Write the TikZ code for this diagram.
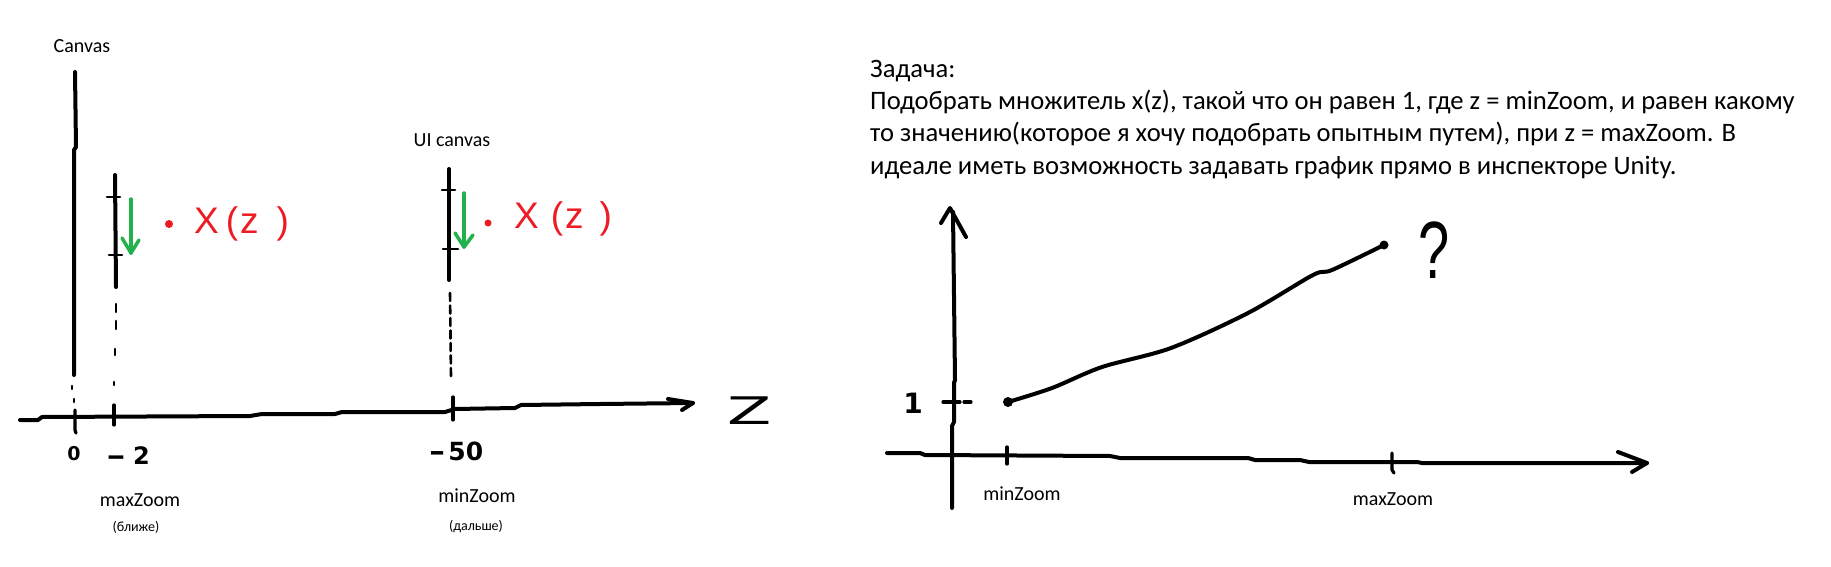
\documentclass[tikz,border=0pt]{standalone}
\usepackage{fontspec}
\usepackage{graphicx}
\setmainfont{Carlito}
\newfontfamily\handfont{DejaVu Sans}
\newfontfamily\redfont{Liberation Sans}
\definecolor{pred}{RGB}{237,28,36}
\definecolor{pgreen}{RGB}{34,177,76}
\begin{document}
\begin{tikzpicture}[x=1pt,y=-1pt,
  ink/.style={line width=4pt,line cap=round,line join=round},
  midink/.style={line width=3.2pt,line cap=round,line join=round},
  thinink/.style={line width=2.6pt,line cap=round,line join=round},
  grn/.style={line width=3.5pt,draw=pgreen,line cap=round,line join=round},
  lbl/.style={inner sep=0pt,font=\fontsize{20}{24}\selectfont},
  sml/.style={inner sep=0pt,font=\fontsize{14}{17}\selectfont},
  task/.style={inner sep=0pt,anchor=base west,font=\fontsize{26.6}{32}\selectfont},
  hand/.style={inner sep=0pt,font=\handfont\bfseries\fontsize{19}{22}\selectfont},
  redtxt/.style={inner sep=0pt,anchor=west,text=pred,font=\redfont\fontsize{37}{40}\selectfont},
]
\useasboundingbox[fill=white] (0,0) rectangle (1831,567);

% ---------- left sketch ----------
\node[lbl] (canvaslbl) at (82,46) {Canvas};
\node[lbl] (uilbl) at (452,140) {UI canvas};

% Canvas plane
\coordinate (cvTop) at (75,72);
\coordinate (cvBot) at (74,375);
\draw[ink] (cvTop) -- (76,147) -- (74,150) -- (cvBot);
\draw[thinink] (72,386) -- (72,389);
\draw[thinink] (74,399) -- (74,402);
\draw[midink] (75,410) -- (75,430) -- (76,433);

% maxZoom plane
\coordinate (pATop) at (115,175);
\coordinate (pABot) at (116,287);
\draw[ink] (pATop) -- (pABot);
\draw[thinink] (107,197) -- (120,197);
\draw[thinink] (109,255) -- (122,255);
\draw[thinink] (116,304) -- (116,312);
\draw[thinink] (116,321) -- (116,329);
\draw[thinink] (115,349) -- (115,355);
\draw[thinink] (114,382) -- (114,385);
\draw[midink] (114,405) -- (114,425);
\coordinate (gA1) at (131,199);
\coordinate (gA2) at (131,253);
\draw[grn] (gA1) -- (gA2);
\draw[grn] (122,238) -- (gA2) -- (139,240);
\fill[pred] (169,224) circle (4);
\node[redtxt] (xzA) at (194,224) {X\hspace{7pt}(\hspace{2pt}z\hspace{18pt})};

% UI canvas plane
\coordinate (pBTop) at (449,169);
\coordinate (pBBot) at (449,280);
\draw[ink] (pBTop) -- (pBBot);
\draw[thinink] (442,190) -- (455,190);
\draw[thinink] (443,249) -- (458,249);
\draw[thinink, dash pattern=on 8pt off 4.5pt] (450,293) -- (451,377);
\draw[midink] (453,397) -- (453,420);
\coordinate (gB1) at (464,193);
\coordinate (gB2) at (464,247);
\draw[grn] (gB1) -- (gB2);
\draw[grn] (455,233) -- (gB2) -- (473,235);
\fill[pred] (488,223) circle (3.5);
\node[redtxt] (xzB) at (514,219) {X\hspace{12pt}(\hspace{2pt}z\hspace{16pt})};

% z axis
\coordinate (axA0) at (20,420);
\coordinate (axA1) at (693,403);
\draw[ink] (axA0) -- (38,420) -- (42,417) -- (250,416) -- (262,414) -- (335,414) -- (342,412) -- (445,412) -- (455,409) -- (515,408) -- (521,405) -- (600,404) -- (axA1);
\draw[ink] (668,399) -- (axA1) -- (682,410);
\node[hand,font=\handfont\fontsize{38}{40}\selectfont] (zlbl) at (750,411) {\scalebox{1.7}[1]{Z}};

\node[hand] (n0) at (74,454) {0};
\node[hand,font=\handfont\bfseries\fontsize{24}{26}\selectfont] (n2) at (128,456) {\scalebox{2}[1]{-}\hspace{7pt}2};
\node[hand,font=\handfont\bfseries\fontsize{25}{28}\selectfont] (n50) at (456,451) {\scalebox{1.6}[1]{-}\hspace{3pt}50};

\node[lbl,anchor=base] (maxA) at (140,506) {maxZoom};
\node[sml,anchor=base] (blizhe) at (136,531) {(ближе)};
\node[lbl,anchor=base] (minA) at (477,502) {minZoom};
\node[sml,anchor=base] (dalshe) at (476,530) {(дальше)};

% ---------- right text ----------
\node[task] (t1) at (870,78) {Задача:};
\node[task] (t2) at (870,110) {Подобрать множитель x(z), такой что он равен 1, где z = minZoom, и равен какому};
\node[task] (t3) at (870,142) {то значению(которое я хочу подобрать опытным путем), при z = maxZoom. В};
\node[task] (t4) at (870,174) {идеале иметь возможность задавать график прямо в инспекторе Unity.};

% ---------- right graph ----------
\coordinate (yTop) at (953,212);
\coordinate (yBot) at (952,508);
\draw[ink] (yTop) -- (955,380) -- (954,383) -- (954,422) -- (952,426) -- (yBot);
\draw[ink] (941,223) -- (950,208) -- (966,237);

\coordinate (xL) at (887,453);
\coordinate (xR) at (1647,463);
\draw[ink] (xL) -- (920,453) -- (925,455) -- (1110,456) -- (1120,458) -- (1248,458) -- (1255,460) -- (1300,460) -- (1309,462) -- (1417,462) -- (1422,463) -- (xR);
\draw[ink] (1618,452) -- (xR) -- (1632,472);

\draw[midink] (1007,447) -- (1007,464);
\draw[midink] (1392,453) -- (1392,470) -- (1394,473);
\draw[midink] (943,402) -- (960,402);
\draw[midink] (964,402) -- (971,402);

\coordinate (cS) at (1008,402);
\coordinate (cE) at (1384,245);
\draw[ink] plot[smooth] coordinates {(cS) (1052,388) (1102,367) (1171,348) (1248,313) (1313,275) (1332,270) (cE)};
\fill (cS) circle (5);
\fill (cE) circle (4.5);

\node[hand,font=\handfont\bfseries\fontsize{28}{30}\selectfont] (one) at (913,403) {1};
\node[inner sep=0pt,font=\redfont\fontsize{56}{60}\selectfont] (q) at (1434,250) {\scalebox{1}[1.45]{?}};

\node[lbl,anchor=base] (minB) at (1022,500) {minZoom};
\node[lbl,anchor=base] (maxB) at (1393,505) {maxZoom};
\end{tikzpicture}
\end{document}
